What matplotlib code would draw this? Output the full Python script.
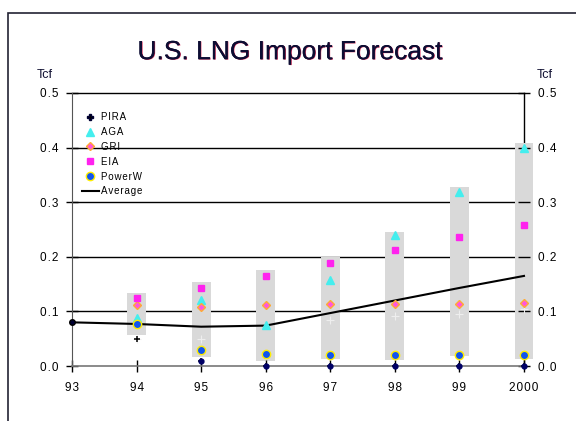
import matplotlib.pyplot as plt
import matplotlib.patheffects as pe
from matplotlib.patches import Rectangle
from matplotlib.lines import Line2D
import numpy as np

plt.rcParams['font.family'] = ['Liberation Sans', 'DejaVu Sans']

# data (Tcf)
years = ["93", "94", "95", "96", "97", "98", "99", "2000"]
range_low = [None, 0.057, 0.017, 0.009, 0.013, 0.011, 0.018, 0.013]
range_high = [None, 0.134, 0.154, 0.176, 0.200, 0.245, 0.328, 0.408]
pira = [None, 0.050, 0.010, 0.0, 0.0, 0.0, 0.0, 0.0]
aga = [None, 0.088, 0.121, 0.075, 0.157, 0.240, 0.319, 0.400]
gri = [None, 0.112, 0.108, 0.112, 0.114, 0.113, 0.114, 0.116]
eia = [None, 0.125, 0.143, 0.165, 0.189, 0.212, 0.236, 0.259]
powerw = [None, 0.077, 0.030, 0.022, 0.020, 0.020, 0.020, 0.020]
other = [None, 0.050, 0.050, 0.075, 0.085, 0.092, 0.095, 0.104]
average = [0.080, 0.077, 0.072, 0.074, 0.097, 0.120, 0.143, 0.165]
y_ticks = [0.0, 0.1, 0.2, 0.3, 0.4, 0.5]
labels = ['PIRA', 'AGA', 'GRI', 'EIA', 'PowerW', 'Average']


def arr(v):
    return np.array([np.nan if a is None else a for a in v], dtype=float)


def spaced(s):
    # old chart fonts are letter-spaced; hair spaces between characters
    return '\u200a'.join(s)


fig = plt.figure(figsize=(5.76, 4.21), dpi=100)
ax = fig.add_axes([0.125, 0.1306, 0.7847, 0.6485])
x = np.arange(len(years))

# gridlines and right axis line, below the bars
for yv in y_ticks[1:]:
    ax.axhline(yv, color='black', lw=1, zorder=0.5, clip_on=False)
ax.axvline(x[-1], color='black', lw=1, zorder=0.4, clip_on=False)

# range bars
lo, hi = arr(range_low), arr(range_high)
ax.bar(x, hi - lo, bottom=lo, width=0.29, color='#d9d9d9', zorder=1, clip_on=False)

ax.plot(x, arr(other), ls='none', marker='+', ms=6, mew=0.8, color='#eeeeee',
        zorder=2, clip_on=False)
ax.plot(x, average, color='black', lw=1.5, zorder=3, clip_on=False,
        marker='o', ms=4, markevery=[0], mfc='#000033', mec='black')
ax.plot(x, arr(pira), ls='none', marker='+', ms=5, mew=1.1, color='black',
        zorder=4, clip_on=False)
ax.plot(x[2:], arr(pira)[2:], ls='none', marker='o', ms=3.5, color='#000066',
        zorder=4.5, clip_on=False)
ax.plot(x, arr(aga), ls='none', marker='^', ms=6, color='#44eeee', zorder=4, clip_on=False)
ax.plot(x, arr(gri), ls='none', marker='D', ms=4.5, mfc='#ff55dd', mec='#ffaa33',
        mew=1, zorder=4, clip_on=False)
ax.plot(x, arr(eia), ls='none', marker='s', ms=5, color='#ff22ee', zorder=4, clip_on=False)
ax.plot(x, arr(powerw), ls='none', marker='o', ms=6, mfc='#1155ee', mec='#ffee00',
        mew=1, zorder=4, clip_on=False)

ax.set_xlim(0, 7)
ax.set_ylim(0, 0.5)
ax.set_xticks(x)
ax.set_xticklabels([spaced(y) for y in years])
ax.set_yticks(y_ticks)
ax.set_yticklabels([spaced('%.1f' % v) for v in y_ticks])
ax.tick_params(axis='x', direction='inout', length=9, width=1, pad=7, labelsize=8.5)
ax.tick_params(axis='y', direction='inout', length=8, width=1, pad=6, labelsize=8.5,
               right=True, labelright=True)
for side in ['top', 'right']:
    ax.spines[side].set_visible(False)
ax.spines['left'].set_color('#555555')
ax.spines['bottom'].set_color('#777777')
ax.spines['bottom'].set_linewidth(1.2)

handles = [
    Line2D([], [], ls='none', marker='P', ms=5, color='black', mec='#000033'),
    Line2D([], [], ls='none', marker='^', ms=6, color='#44eeee'),
    Line2D([], [], ls='none', marker='D', ms=4.5, mfc='#ff55dd', mec='#ffaa33', mew=1),
    Line2D([], [], ls='none', marker='s', ms=5, color='#ff22ee'),
    Line2D([], [], ls='none', marker='o', ms=6, mfc='#1155ee', mec='#ffee00', mew=1),
    Line2D([], [], color='black', lw=1.5),
]
ax.legend(handles, [spaced(s) for s in labels], loc='upper left',
          bbox_to_anchor=(0.022, 0.93), frameon=False,
          fontsize=7, borderpad=0, labelspacing=0.5, handlelength=1.75,
          handletextpad=0.2, borderaxespad=0)

fig.text(0.503, 0.876, 'U.S. LNG Import Forecast', ha='center', va='center',
         fontsize=19, color='#0d0d33',
         path_effects=[pe.withSimplePatchShadow(offset=(0.5, -0.3), shadow_rgbFace='#cc0033', alpha=0.8),
                       pe.Normal()])
fig.text(0.078, 0.822, 'Tcf', ha='center', va='center', fontsize=9, color='#111133')
fig.text(0.946, 0.822, 'Tcf', ha='center', va='center', fontsize=9, color='#111133')

# outer frame
fig.patches.append(Rectangle((8 / 576, -0.1), 1.0, 1 - 13 / 421 + 0.1, transform=fig.transFigure,
                             fill=False, edgecolor='#222233', lw=1.2))
fig.text(0.013, 1.012, 'g', fontsize=14, family='Liberation Serif', ha='left', va='baseline')

fig.savefig('out.png', dpi=100)
